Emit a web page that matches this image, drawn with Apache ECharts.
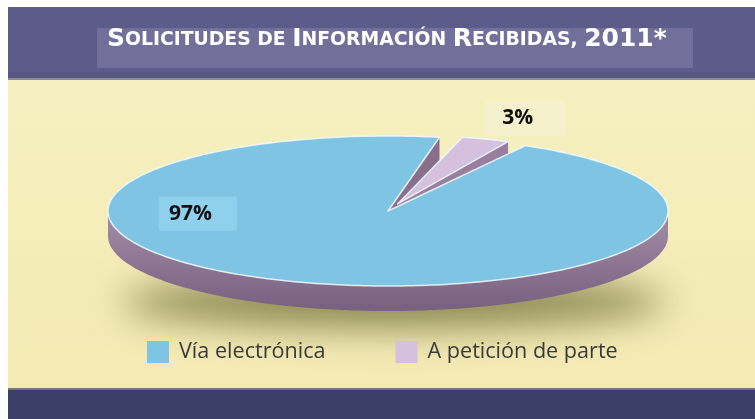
<!DOCTYPE html>
<html><head><meta charset="utf-8">
<script src="https://cdn.jsdelivr.net/npm/echarts@6/dist/echarts.min.js"></script>
<style>html,body{margin:0;padding:0;background:#fff}#c{width:755px;height:419px}</style>
</head><body><div id="c"></div>
<script>
// ---- data ----
const categories = ['Vía electrónica', 'A petición de parte'];
const values = [97, 3];
const valueLabels = ['97%', '3%'];
const titleParts = [['b', 'S'], ['s', 'OLICITUDES DE '], ['b', 'I'], ['s', 'NFORMACIÓN '], ['b', 'R'], ['s', 'ECIBIDAS, '], ['b', '2011*']];

// ---- style / layout ----
const geo = { cx: 388, cy: 211, rx: 280, ry: 75, depth: 25, startAngle: 75.4, gap: 4 };
const topColors = ['#80c4e3', '#d5c0df'];
const faceColors = ['#8a6f8c', '#9a7e9d'];
const sliceStyle = [
  { explode: 0, radius: 1, labelAngle: 183, labelRadius: 0.68, bg: '#8fd0ec', pad: [7, 25, 6, 10] },
  { explode: 0.1, radius: 0.92, labelAngle: 68.5, labelRadius: 1.333, bg: '#f6f1cd', pad: [7, 32, 6, 18] }
];
const total = values.reduce((a, b) => a + b, 0);

function sliceRange(i) {
  let a = geo.startAngle;
  for (let k = 0; k < i; k++) a += values[k] / total * 360;
  return [a, a + values[i] / total * 360];
}
function P(a, r, ox, oy, dz) {
  const t = a * Math.PI / 180;
  return [geo.cx + ox + r * geo.rx * Math.cos(t), geo.cy + oy - r * geo.ry * Math.sin(t) + (dz || 0)];
}
function arcPts(a0, a1, r, ox, oy, dz) {
  const pts = [];
  const n = Math.max(2, Math.ceil(Math.abs(a1 - a0)));
  for (let k = 0; k <= n; k++) pts.push(P(a0 + (a1 - a0) * k / n, r, ox, oy, dz));
  return pts;
}

function renderSlice(i) {
  return function (params, api) {
    const st = sliceStyle[i];
    let [a0, a1] = sliceRange(i);
    const hasExploded = sliceStyle.some(s => s.explode > 0);
    if (st.explode === 0 && hasExploded) { a0 += geo.gap; a1 -= geo.gap; }
    const mid = (a0 + a1) / 2 * Math.PI / 180;
    const ox = st.explode * geo.rx * Math.cos(mid);
    const oy = -st.explode * geo.ry * Math.sin(mid);
    const r = st.radius;
    const d = geo.depth;
    const c = [geo.cx + ox, geo.cy + oy];
    const children = [];
    const exploded = st.explode > 0;
    for (let k = -1; k <= 1; k++) {
      const w0 = Math.max(a0, 180 + 360 * k), w1 = Math.min(a1, 360 + 360 * k);
      if (w1 > w0) {
        const pts = arcPts(w0, w1, r, ox, oy, 0).concat(arcPts(w1, w0, r, ox, oy, d));
        children.push({ type: 'polygon', z2: 1, shape: { points: pts },
          style: { fill: new echarts.graphic.LinearGradient(0, 0, 0, 1, [{ offset: 0, color: '#a58ea7' }, { offset: 1, color: '#776080' }]), stroke: null } });
      }
    }
    const cd = [c[0], c[1] + d];
    if (Math.cos(a0 * Math.PI / 180) > 0) {
      const p = P(a0, r, ox, oy), pd = P(a0, r, ox, oy, d);
      children.push({ type: 'polygon', z2: exploded ? 3 : 2, shape: { points: [c, p, pd, cd] }, style: { fill: faceColors[i] } });
    }
    if (Math.cos(a1 * Math.PI / 180) < 0) {
      const p = P(a1, r, ox, oy), pd = P(a1, r, ox, oy, d);
      children.push({ type: 'polygon', z2: exploded ? 3 : 2, shape: { points: [c, p, pd, cd] }, style: { fill: faceColors[i] } });
    }
    const topPts = [c].concat(arcPts(a0, a1, r, ox, oy, 0));
    children.push({ type: 'polygon', z2: exploded ? 4 : 5, shape: { points: topPts },
      style: { fill: topColors[i], stroke: 'rgba(240,250,255,0.85)', lineWidth: 1.5, lineJoin: 'round' } });
    const lp = P(st.labelAngle, st.labelRadius, 0, 0);
    children.push({ type: 'text', z2: 10, x: lp[0], y: lp[1],
      style: { text: valueLabels[i], fill: '#111', font: 'bold 21px "Open Sans"', align: 'center', verticalAlign: 'middle',
        backgroundColor: st.bg, padding: st.pad } });
    return { type: 'group', children };
  };
}

const tFont = '"DejaVu Sans", sans-serif';
const rich = {
  b: { color: '#fff', fontFamily: tFont, fontWeight: 'bold', fontSize: 25, lineHeight: 30, verticalAlign: 'bottom' },
  s: { color: '#fff', fontFamily: tFont, fontWeight: 'bold', fontSize: 18.8, lineHeight: 30, verticalAlign: 'bottom', padding: [0, 0, 2, 0] }
};

const chart = echarts.init(document.getElementById('c'));
chart.setOption({
  animation: false,
  backgroundColor: '#fff',
  title: {
    text: titleParts.map(p => '{' + p[0] + '|' + p[1] + '}').join(''),
    left: 107, top: 22, padding: 0,
    textStyle: { fontWeight: 'bold', rich }
  },
  legend: {
    data: categories, left: 147, top: 341, padding: 0, itemWidth: 22, itemHeight: 22, itemGap: 70, icon: 'rect',
    selectedMode: false,
    textStyle: { fontFamily: 'Open Sans', fontSize: 21.6, color: '#3a3a3a', padding: [0, 0, 0, 5] }
  },
  graphic: [
    { type: 'rect', shape: { x: 8, y: 80, width: 747, height: 310 }, style: { fill: new echarts.graphic.LinearGradient(0, 0, 0, 1, [{ offset: 0, color: '#f6f0c0' }, { offset: 1, color: '#f3eab3' }]) }, z: -10 },
    { type: 'rect', shape: { x: 8, y: 7, width: 747, height: 73 }, style: { fill: '#5d5b89' }, z: -9 },
    { type: 'rect', shape: { x: 8, y: 72, width: 747, height: 6 }, style: { fill: '#585683' }, z: -9 },
    { type: 'rect', shape: { x: 8, y: 78, width: 747, height: 2 }, style: { fill: '#8d8c90' }, z: -9 },
    { type: 'rect', shape: { x: 97, y: 28, width: 596, height: 40 }, style: { fill: '#72709a' }, z: -8 },
    { type: 'rect', shape: { x: 8, y: 389, width: 747, height: 30 }, style: { fill: '#3b3f68' }, z: -9 },
    { type: 'rect', shape: { x: 8, y: 388, width: 747, height: 2 }, style: { fill: '#77776a' }, z: -9 },
    { type: 'ellipse', shape: { cx: 394, cy: 302 - 2000, rx: 272, ry: 26 },
      style: { fill: '#999', shadowBlur: 36, shadowColor: 'rgba(140,135,80,1)', shadowOffsetY: 2000 }, z: -5 }
  ],
  series: categories.map((name, i) => ({
    type: 'custom', name, coordinateSystem: 'none',
    itemStyle: { color: topColors[i] },
    data: [[values[i]]],
    renderItem: renderSlice(i)
  }))
});
</script></body></html>
